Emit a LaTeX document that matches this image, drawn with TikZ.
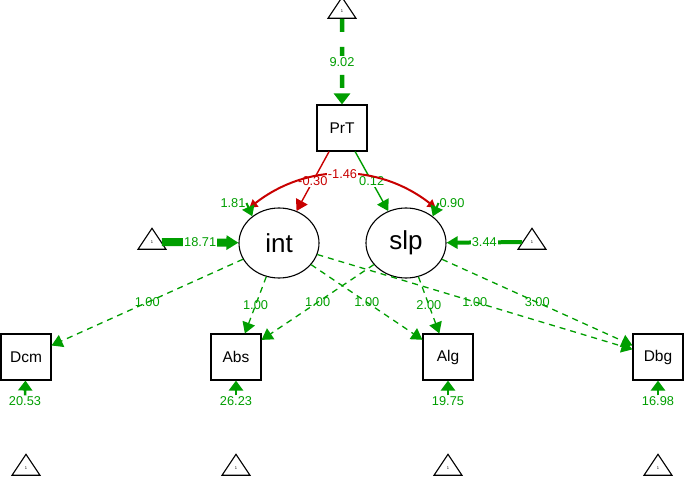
\documentclass[tikz,border=0pt]{standalone}
\usepackage{fontspec}
\setmainfont{Liberation Sans}
\usetikzlibrary{shapes.geometric,arrows.meta}
\definecolor{posgreen}{RGB}{0,158,0}
\definecolor{negred}{RGB}{200,0,0}
\begin{document}
\begin{tikzpicture}[x=1pt, y=-1pt,
  manifest/.style={draw, line width=1.1pt, minimum width=50pt, minimum height=46pt, font=\fontsize{15.5}{18}\selectfont},
  latent/.style={draw, ellipse, line width=1.1pt, minimum width=80pt, minimum height=70pt, font=\fontsize{26}{30}\selectfont},
  const/.style={draw, isosceles triangle, isosceles triangle stretches, shape border rotate=90, minimum width=28pt, minimum height=21pt, inner sep=0pt, line width=1.1pt, font=\fontsize{4}{4}\selectfont},
  lbl/.style={font=\fontsize{12.8}{14}\selectfont, text=posgreen, inner sep=0.8pt},
  load/.style={-{Triangle[length=11pt,width=13pt]}, posgreen, line width=1.3pt, dash pattern=on 6pt off 5pt},
  reg/.style={-{Triangle[length=11pt,width=13pt]}, line width=1.4pt},
  cov/.style={{Triangle[length=8pt,width=9pt]}-{Triangle[length=8pt,width=9pt]}, negred, line width=2pt},
  res/.style={-{Triangle[length=10pt,width=13pt]}, posgreen, line width=2pt},
  icpt/.style={-{Triangle[length=10pt,width=14pt]}, posgreen, line width=2.5pt}
]
\useasboundingbox (0,0) rectangle (685,479);
% constants and variables
\node[const] (c0) at (342,11) {1};
\node[manifest] (prt) at (342,128) {PrT};
\node[latent] (int) at (279,243) {int};
\node[latent] (slp) at (406,243) {slp};
\node[const] (c1) at (152,242) {1};
\node[const] (c2) at (532,242) {1};
\node[manifest] (dcm) at (26,357) {Dcm};
\node[manifest] (abs) at (236,357) {Abs};
\node[manifest] (alg) at (448,357) {Alg};
\node[manifest] (dbg) at (658,357) {Dbg};
\node[const] (c3) at (26,468) {1};
\node[const] (c4) at (236,468) {1};
\node[const] (c5) at (448,468) {1};
\node[const] (c6) at (658,468) {1};
% intercepts
\draw[-{Triangle[length=11pt,width=16pt]}, posgreen, line width=4.5pt, dash pattern=on 13pt off 15pt] (c0) -- node[lbl, fill=white] {9.02} (prt);
\draw[-{Triangle[length=12pt,width=14pt]}, posgreen, line width=8pt] (c1) -- node[lbl, fill=white] {18.71} (int);
\draw[-{Triangle[length=11pt,width=12pt]}, posgreen, line width=4pt] (c2) -- node[lbl, fill=white] {3.44} (slp);
\node[lbl] (idcm) at (25,401) {20.53};
\node[lbl] (iabs) at (236,401) {26.23};
\node[lbl] (ialg) at (448,401) {19.75};
\node[lbl] (idbg) at (658,401) {16.98};
\draw[icpt] (idcm) -- (dcm);
\draw[icpt] (iabs) -- (abs);
\draw[icpt] (ialg) -- (alg);
\draw[icpt] (idbg) -- (dbg);
% regressions
\draw[reg, negred] (prt) -- node[lbl, text=negred, fill=white] {-0.30} (int);
\draw[reg, posgreen] (prt) -- node[lbl, fill=white] {0.12} (slp);
% (co)variances
\draw[cov] ([shift={(-1,-10)}]int.north west) to[bend left=38] node[lbl, text=negred, fill=white] {-1.46} ([shift={(1,-10)}]slp.north east);
\node[lbl] (vint) at (233,203) {1.81};
\node[lbl] (vslp) at (452,203) {0.90};
\draw[res] (vint.east) -- (int.135);
\draw[res] (vslp.west) -- (slp.45);
% loadings
\draw[load] (int) -- node[lbl] {1.00} (dcm);
\draw[load] (int) -- node[lbl] {1.00} (abs);
\draw[load] (int) -- node[lbl] {1.00} (alg);
\draw[load] (int) -- node[lbl] {1.00} (dbg);
\draw[load] (slp) -- node[lbl] {1.00} (abs);
\draw[load] (slp) -- node[lbl] {2.00} (alg);
\draw[load] (slp) -- node[lbl] {3.00} (dbg);
\end{tikzpicture}
\end{document}
